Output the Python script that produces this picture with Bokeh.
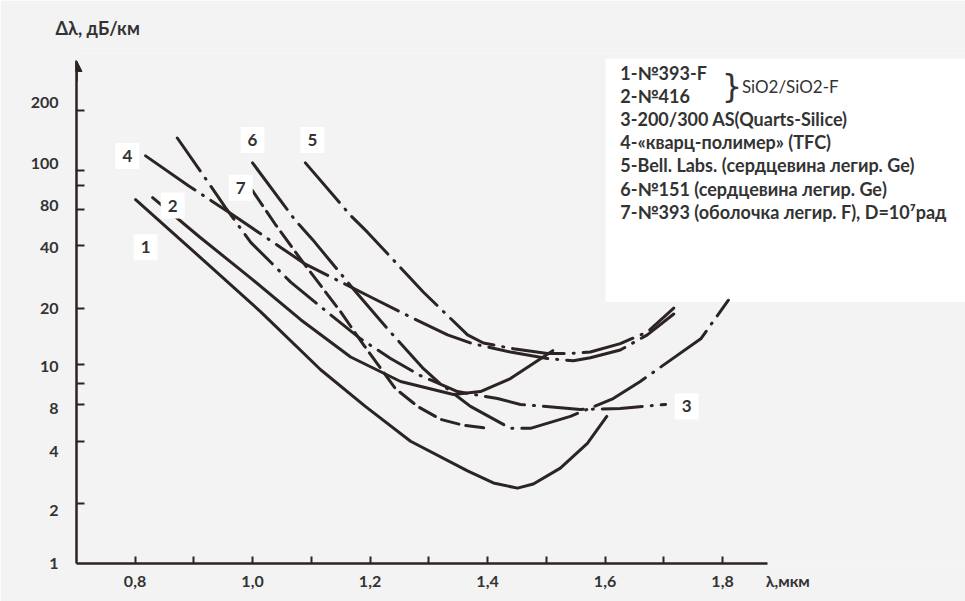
import numpy as np
from bokeh.plotting import figure
from bokeh.models import (Range1d, LinearAxis, FixedTicker, CustomJSTickFormatter,
                          Label, BoxAnnotation, Arrow, NormalHead)
from bokeh.embed import file_html
from bokeh.resources import INLINE

# ---------------- data ----------------
# y axis of the hand-drawn chart: tick values, position of tick marks and of their labels
Y_TICK_VALUES = [1, 2, 4, 8, 10, 20, 40, 80, 100, 200]
Y_TICK_LEVEL = [0.0, 6.0, 12.3, 16.0, 20.0, 25.6, 32.0, 35.6, 39.5, 45.6]
Y_LABEL_LEVEL = [0.0, 5.3, 11.3, 15.6, 19.8, 25.6, 31.8, 36.0, 40.2, 46.4]
Y_MINOR_LEVEL = [18.1, 38.0]
X_TICKS = [0.8, 1.0, 1.2, 1.4, 1.6, 1.8]
X_MINOR = [0.9, 1.1, 1.3, 1.5, 1.7]
X_TITLE = "λ,мкм"
Y_TITLE = "Δλ, дБ/км"

# wavelength (um) and attenuation (dB/km) for each curve
c1_x = [0.801, 0.911, 1.014, 1.116, 1.192, 1.269, 1.366, 1.410, 1.451, 1.478, 1.524, 1.570, 1.603]
c1_y = [84.7, 35.1, 19.3, 9.72, 7.71, 4.0, 2.88, 2.52, 2.38, 2.49, 2.97, 3.91, 6.39]

c2_x = [0.830, 0.911, 0.997, 1.082, 1.167, 1.252, 1.342, 1.388, 1.439, 1.511]
c2_y = [85.7, 46.6, 28.0, 17.5, 11.0, 9.1, 8.46, 8.6, 9.25, 11.9]

c3_x = [0.872, 0.911, 0.954, 0.997, 1.065, 1.133, 1.184, 1.235, 1.286, 1.349, 1.417, 1.456, 1.558, 1.626, 1.703]
c3_y = [145.5, 100.0, 80.9, 42.4, 26.8, 18.6, 13.8, 10.8, 9.4, 8.6, 8.27, 8.0, 7.28, 7.42, 8.0]

c4_x = [0.818, 0.891, 0.963, 1.048, 1.090, 1.201, 1.269, 1.332, 1.374, 1.439, 1.502, 1.546, 1.575, 1.626, 1.672, 1.717]
c4_y = [118.6, 91.8, 74.1, 39.1, 32.6, 22.8, 18.1, 14.5, 13.0, 11.7, 10.8, 10.5, 10.9, 12.0, 14.5, 18.8]

c5_x = [1.090, 1.167, 1.196, 1.264, 1.291, 1.366, 1.393, 1.444, 1.502, 1.541, 1.575, 1.626, 1.672, 1.717]
c5_y = [109.5, 71.3, 51.4, 28.9, 24.0, 14.5, 13.1, 12.2, 11.5, 11.5, 11.7, 13.0, 15.0, 20.2]

c6_x = [1.000, 1.073, 1.102, 1.172, 1.230, 1.291, 1.315, 1.371, 1.439, 1.473, 1.541, 1.614, 1.660, 1.763, 1.810]
c6_y = [109.5, 64.7, 44.9, 24.8, 15.6, 9.78, 9.1, 7.71, 5.1, 5.1, 6.39, 8.27, 9.1, 13.8, 22.0]

c7_x = [1.000, 1.039, 1.082, 1.150, 1.189, 1.243, 1.281, 1.320, 1.359, 1.400]
c7_y = [89.2, 59.9, 34.4, 19.3, 12.8, 8.75, 7.71, 6.04, 5.4, 5.1]

LEGEND_LINES = [
    "1-№393-F",
    "2-№416",
    "3-200/300 AS(Quarts-Silice)",
    "4-«кварц-полимер» (TFC)",
    "5-Bell. Labs. (сердцевина легир. Ge)",
    "6-№151 (сердцевина легир. Ge)",
    "7-№393 (оболочка легир. F),  D=10⁷рад",
]


def to_level(v):
    return np.interp(np.log10(np.asarray(v, dtype=float)), np.log10(Y_TICK_VALUES), Y_TICK_LEVEL)


# ---------------- figure ----------------
INK = "#2b2422"
TXT = "#333333"
PAPER = "#f3f3f3"
FONT = "Lato"

X0 = 0.7004
X1 = 2.2136
X_TITLE_AT = 1.911
p = figure(width=965, height=601, output_backend="svg", toolbar_location=None,
           x_range=Range1d(X0, X1), y_range=Range1d(0, 51.3),
           x_axis_type=None, y_axis_type=None,
           min_border_left=76, min_border_right=0, min_border_top=50, min_border_bottom=38)
p.background_fill_color = PAPER
p.border_fill_color = PAPER
p.outline_line_color = None
p.grid.visible = False

p.title.text = Y_TITLE
p.title.align = "left"
p.title.offset = -21
p.title.standoff = 29
p.title.text_font = FONT
p.title.text_font_style = "bold"
p.title.text_font_size = "18px"
p.title.text_color = TXT

# white legend area
p.add_layout(BoxAnnotation(left=1.601, right=2.3, bottom=26.3, top=50.8, fill_color="white",
                           fill_alpha=1, line_alpha=0, level="underlay"))


def style_line_axis(ax, tick_len):
    # the hand-drawn axis: line and tick marks only (all marks as minor ticks, which carry no labels)
    ax.axis_line_color = INK
    ax.axis_line_width = 2.5
    ax.major_tick_line_color = None
    ax.minor_tick_line_color = INK
    ax.minor_tick_line_width = 2
    ax.major_tick_out = 0
    ax.major_tick_in = 0
    ax.minor_tick_out = 0
    ax.minor_tick_in = tick_len
    ax.major_label_standoff = 0


def style_label_axis(ax, standoff):
    ax.axis_line_color = None
    ax.major_tick_line_color = None
    ax.minor_tick_line_color = None
    ax.major_tick_out = 0
    ax.major_tick_in = 0
    ax.major_label_text_font = FONT
    ax.major_label_text_font_style = "bold"
    ax.major_label_text_font_size = "16px"
    ax.major_label_text_color = TXT
    ax.major_label_standoff = standoff


# x axis: line + tick marks, then a label row (with the axis title at its end)
xaxis = LinearAxis(ticker=FixedTicker(ticks=[], minor_ticks=sorted(X_TICKS + X_MINOR)),
                   bounds=(X0, 1.877))
style_line_axis(xaxis, 7)
xlab = LinearAxis(ticker=FixedTicker(ticks=X_TICKS + [X_TITLE_AT]),
                  formatter=CustomJSTickFormatter(args=dict(title=X_TITLE, at=X_TITLE_AT), code="""
if (Math.abs(tick - at) < 1e-6) { return title; }
return tick.toFixed(1).replace('.', ',');
"""))
style_label_axis(xlab, 7)

# y axis: line + tick marks, then a label column
yaxis = LinearAxis(ticker=FixedTicker(ticks=[], minor_ticks=sorted(Y_TICK_LEVEL[1:] + Y_MINOR_LEVEL)),
                   bounds=(0, 50.5))
style_line_axis(yaxis, 8)
ylab = LinearAxis(ticker=FixedTicker(ticks=Y_LABEL_LEVEL),
                  formatter=CustomJSTickFormatter(
                      args=dict(levels=Y_LABEL_LEVEL, labels=[str(v) for v in Y_TICK_VALUES]),
                      code="""
const i = levels.findIndex(l => Math.abs(l - tick) < 1e-6);
return i >= 0 ? labels[i] : "";
"""))
style_label_axis(ylab, 18)

p.add_layout(xaxis, "below")
p.add_layout(xlab, "below")
p.add_layout(yaxis, "left")
p.add_layout(ylab, "left")

p.add_layout(Arrow(end=NormalHead(size=11, fill_color=INK, line_color=INK),
                   x_start=X0, y_start=48.5, x_end=X0, y_end=50.6,
                   line_color=INK, line_width=2.5))

# curves
curves = [
    (c1_x, c1_y, "solid"),
    (c2_x, c2_y, "solid"),
    (c3_x, c3_y, "40 9 1 9"),
    (c4_x, c4_y, "60 9 1 9"),
    (c5_x, c5_y, "52 9 1 9"),
    (c6_x, c6_y, "58 9 1 9"),
    (c7_x, c7_y, "18 7"),
]
for cx, cy, dash in curves:
    p.line(cx, to_level(cy), line_color=INK, line_width=3, line_dash=dash,
           line_cap="round", line_join="round")

# curve number tags
tags = [("1", 0.818, 31.8), ("2", 0.864, 36.0), ("3", 1.739, 15.8), ("4", 0.787, 41.0),
        ("5", 1.102, 42.6), ("6", 1.000, 42.6), ("7", 0.980, 37.8)]
for t, tx, ty in tags:
    p.add_layout(Label(x=tx, y=ty, text=t, text_align="center", text_baseline="middle",
                       text_font=FONT, text_font_style="bold", text_font_size="17px",
                       text_color=TXT, background_fill_color="white",
                       background_fill_alpha=1, padding=7))

# legend text
leg_levels = [49.3, 47.0, 44.7, 42.4, 40.1, 37.7, 35.4]
for txt, lv in zip(LEGEND_LINES, leg_levels):
    p.add_layout(Label(x=1.626, y=lv, text=txt, text_align="left", text_baseline="middle",
                       text_font=FONT, text_font_style="bold", text_font_size="18px",
                       text_color=TXT))
p.add_layout(Label(x=1.816, y=48.0, text="}", text_align="center", text_baseline="middle",
                   text_font="DejaVu Sans", text_font_size="32px", text_color=TXT))
p.add_layout(Label(x=1.833, y=48.0, text="SiO2/SiO2-F", text_align="left", text_baseline="middle",
                   text_font=FONT, text_font_size="17px", text_color=TXT))

open("out.html", "w").write(file_html(p, INLINE))
